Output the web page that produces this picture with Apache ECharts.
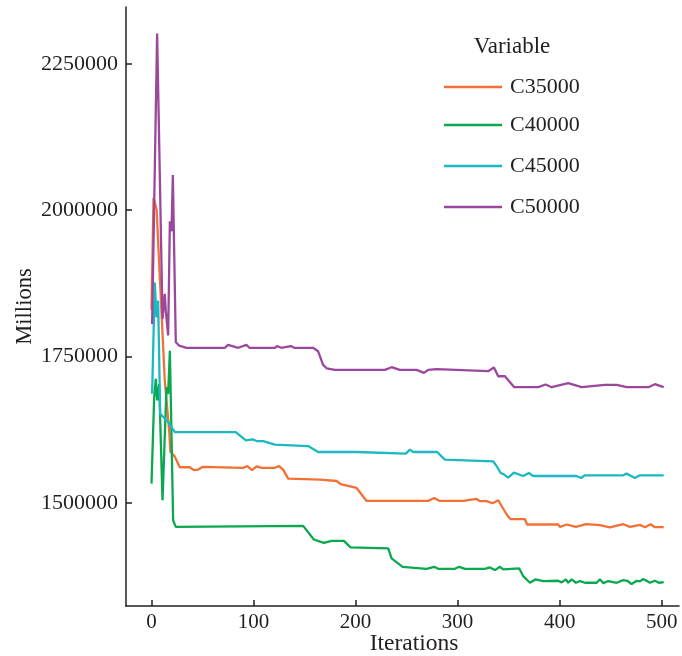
<!DOCTYPE html>
<html>
<head>
<meta charset="utf-8">
<script src="https://cdn.jsdelivr.net/npm/echarts@6/dist/echarts.min.js"></script>
<style>html,body{margin:0;padding:0;background:#fff}#c{width:682px;height:656px}</style>
</head>
<body>
<div id="c"></div>
<script>
const seriesNames = ['C35000', 'C40000', 'C45000', 'C50000'];
const xTicks = [0, 100, 200, 300, 400, 500];
const yTicks = [1500000, 1750000, 2000000, 2250000];

const c35000 = [[0,1830000],[2,2021000],[5,2001000],[13,1709000],[17.3,1624000],[18.6,1587000],[22.5,1580000],[27.7,1561000],[37.5,1561000],[41.5,1556000],[45.7,1557000],[50,1561500],[89.8,1560000],[94,1563000],[98.6,1556000],[103,1562500],[107.8,1560000],[121,1560000],[125,1563000],[129,1557000],[134,1541600],[165,1540000],[181.4,1537500],[185.3,1532000],[201,1525600],[210.8,1503400],[271.2,1503400],[277,1508500],[282.6,1503400],[305.5,1503400],[318.6,1506800],[322,1503000],[328.4,1503000],[334.3,1499500],[339.8,1504600],[348.6,1479000],[352,1472200],[366,1472200],[368.2,1463200],[398.6,1463200],[400.3,1459100],[406.9,1463200],[416,1459100],[425.8,1463700],[439.5,1462000],[449.3,1458100],[462.4,1463700],[468.9,1459100],[478.7,1462500],[483.6,1458600],[489.2,1463700],[493.4,1458600],[502,1458600]];
const c40000 = [[0,1533000],[2.6,1680000],[4.2,1712000],[5.5,1675000],[7.5,1703000],[10.8,1504600],[14.7,1698000],[16.3,1686000],[18,1760000],[21.2,1470500],[23.8,1459100],[148.6,1460800],[159.1,1437600],[168.9,1431800],[176.5,1435200],[188.5,1435200],[195.1,1424000],[232,1422300],[235.3,1405200],[246.1,1390900],[269.6,1387500],[277,1390900],[281,1387500],[297.4,1387500],[301.6,1390900],[307.2,1387500],[326.8,1387500],[331.7,1389900],[336.6,1385300],[341.5,1390900],[344.7,1386500],[360.4,1388200],[364.3,1375100],[370.9,1363700],[376.5,1369500],[384,1366600],[398.6,1367100],[402,1364300],[406.2,1369500],[408.4,1363700],[411.7,1369500],[416,1363700],[419.9,1366600],[424.8,1363700],[436.3,1363700],[439.5,1369500],[442.8,1363000],[447.7,1366600],[455.9,1363700],[462.4,1368300],[466.4,1367100],[470.6,1361500],[475.5,1367100],[478.7,1366000],[482,1370000],[488.5,1363700],[493.4,1367100],[497.4,1363700],[502,1364900]];
const c45000 = [[0.6,1686400],[3.2,1876600],[4.9,1817000],[6.5,1845400],[8.5,1652300],[16.5,1638000],[22.8,1621000],[82.6,1621000],[92.5,1606900],[99,1608500],[103,1605700],[109.4,1605700],[120.9,1599500],[153.5,1597100],[163.3,1587000],[201,1587000],[202.6,1584200],[249.3,1584200],[253.2,1591000],[256.5,1587000],[280,1587000],[287.5,1574000],[334.9,1571100],[338.2,1563100],[342.2,1551100],[345.4,1548900],[349.6,1543300],[355.2,1551800],[364.3,1546000],[369.9,1551100],[374.1,1546000],[416.6,1546000],[420.9,1542600],[424.8,1547200],[462.4,1547200],[465.7,1550100],[473.8,1542600],[478.7,1547200],[502,1547200]];
const c50000 = [[0.6,1805700],[5.5,2301600],[10.8,1814000],[13,1857000],[14,1828000],[16.3,1786000],[18,1981000],[19.6,1964000],[20.9,2060000],[23.8,1774400],[27,1768800],[34.3,1765000],[72,1765000],[75,1770000],[85,1765000],[93,1770000],[96,1765000],[121,1765000],[123,1768000],[127,1765000],[136.6,1768000],[140,1765000],[158.4,1765000],[163.3,1759000],[168.2,1735800],[171.6,1730000],[179.7,1727300],[228.7,1727300],[235.3,1731800],[243.4,1727300],[259.8,1727300],[267,1722200],[271.2,1727300],[279.4,1728400],[330,1725000],[335.6,1731300],[339.8,1716400],[346.4,1716400],[355.5,1697700],[379,1697700],[386.3,1702300],[392.2,1697700],[408.4,1704500],[421.6,1697700],[444.4,1701800],[455.9,1701800],[465.7,1697700],[486.9,1697700],[493.4,1702800],[502,1697700]];

const seriesData = [c35000, c40000, c45000, c50000];
const colors = ['#f37034', '#0aa84f', '#1bb9c1', '#9c479e'];
const FONT = '"Liberation Serif", "DejaVu Serif", serif';
const TXT = '#231f20';
const legendTops = [76, 114, 155, 196];

const chart = echarts.init(document.getElementById('c'), null, {renderer: 'canvas'});
chart.setOption({
  animation: false,
  backgroundColor: '#fff',
  color: colors,
  grid: {left: 126, top: 7, right: 3, bottom: 50, containLabel: false, outerBoundsMode: 'none'},
  graphic: [{
    type: 'text', x: 512, y: 47,
    style: {text: 'Variable', font: '23px ' + FONT, fill: TXT, align: 'center', verticalAlign: 'middle'}
  }],
  legend: seriesNames.map((n, i) => ({
    data: [n], left: 444, top: legendTops[i], orient: 'vertical', padding: 0,
    icon: 'rect', itemWidth: 58, itemHeight: 2.5, itemGap: 0,
    textStyle: {fontFamily: FONT, fontSize: 22, color: TXT, padding: [0, 0, 0, 3]}
  })),
  xAxis: {
    type: 'value', min: -25, max: 517,
    name: 'Iterations', nameLocation: 'middle', nameGap: 26, nameMoveOverlap: false,
    nameTextStyle: {fontFamily: FONT, fontSize: 23.5, color: TXT, padding: [0, 0, 0, 23]},
    axisLine: {show: true, onZero: false, lineStyle: {color: '#231f20', width: 1.5}},
    axisTick: {show: true, inside: true, length: 6, customValues: xTicks, lineStyle: {color: '#231f20', width: 1.5}},
    axisLabel: {customValues: xTicks, fontFamily: FONT, fontSize: 21, color: TXT, margin: 6},
    splitLine: {show: false}
  },
  yAxis: {
    type: 'value', min: 1324000, max: 2347000,
    name: 'Millions', nameLocation: 'middle', nameGap: 89, nameRotate: 90, nameMoveOverlap: false,
    nameTextStyle: {fontFamily: FONT, fontSize: 22.5, color: TXT},
    axisLine: {show: true, onZero: false, lineStyle: {color: '#231f20', width: 1.5}},
    axisTick: {show: true, inside: true, length: 6, customValues: yTicks, lineStyle: {color: '#231f20', width: 1.5}},
    axisLabel: {customValues: yTicks, formatter: v => String(v), fontFamily: FONT, fontSize: 22, color: TXT, margin: 8},
    splitLine: {show: false}
  },
  series: seriesNames.map((n, i) => ({
    name: n, type: 'line', data: seriesData[i], showSymbol: false, symbol: 'none',
    lineStyle: {width: 2.3, color: colors[i]}, itemStyle: {color: colors[i]}
  }))
});
</script>
</body>
</html>
